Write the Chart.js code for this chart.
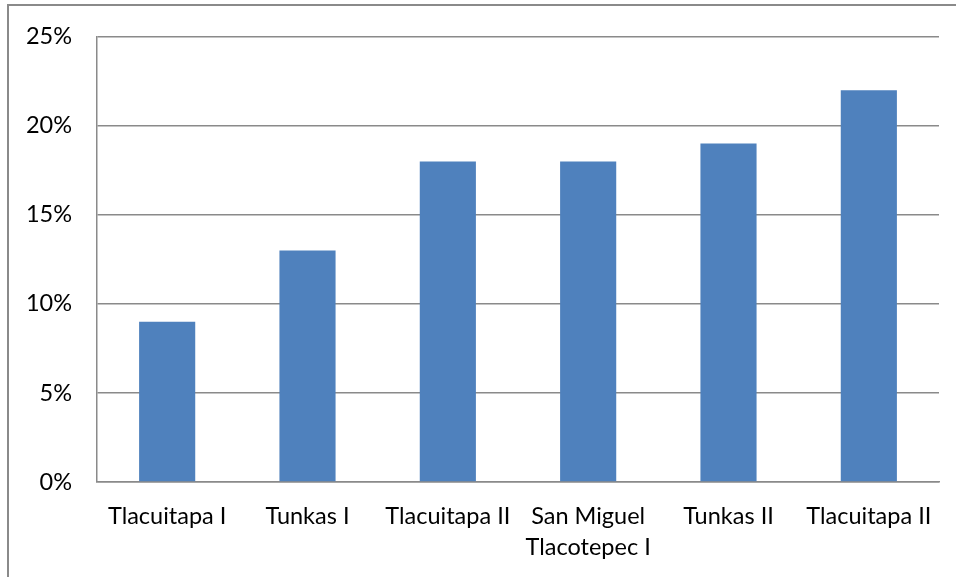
<!DOCTYPE html>
<html>
<head>
<meta charset="utf-8">
<script src="https://cdn.jsdelivr.net/npm/chart.js@4.4.1/dist/chart.umd.min.js"></script>
<style>
  html, body { margin: 0; padding: 0; background: #fff; }
  #wrap { position: relative; width: 956px; height: 577px; overflow: hidden; }
  #frame { position: absolute; left: 7px; top: 4px; width: 1000px; height: 1000px;
           border-top: 2px solid #8a8a8a; border-left: 2px solid #8a8a8a; }
  canvas { position: absolute; left: 0; top: 0; }
</style>
</head>
<body>
<div id="wrap">
  <div id="frame"></div>
  <canvas id="chart" width="956" height="577"></canvas>
</div>
<script>
const categories = ['Tlacuitapa I', 'Tunkas I', 'Tlacuitapa II', ['San Miguel', 'Tlacotepec I'], 'Tunkas II', 'Tlacuitapa II'];
const values = [9, 13, 18, 18, 19, 22];
const yTicks = [0, 5, 10, 15, 20, 25];

document.addEventListener("DOMContentLoaded", () => {
    const ctx = document.getElementById('chart').getContext('2d');
    const xFont = { family: "Lato, 'Open Sans', sans-serif", size: 23.5, lineHeight: 1.32 };
    const yFont = { family: "Lato, 'Open Sans', sans-serif", size: 23.5, lineHeight: 1.0 };

    new Chart(ctx, {
        type: 'bar',
        data: {
            labels: categories,
            datasets: [{
                data: values,
                backgroundColor: '#4f81bd',
                borderWidth: 0,
                barPercentage: 0.4,
                categoryPercentage: 1.0
            }]
        },
        options: {
            responsive: false,
            animation: false,
            layout: { padding: { top: 35, right: 17, left: 0, bottom: 0 } },
            plugins: { legend: { display: false }, tooltip: { enabled: false } },
            scales: {
                x: {
                    grid: { display: false, drawTicks: false },
                    border: { color: '#8a8a8a', width: 1.5 },
                    ticks: { color: '#000', font: xFont, padding: 19, maxRotation: 0, autoSkip: false },
                    afterFit: (s) => { s.height = 95; }
                },
                y: {
                    min: 0,
                    max: 25,
                    afterBuildTicks: (s) => { s.ticks = yTicks.map(v => ({ value: v })); },
                    grid: { color: '#8a8a8a', lineWidth: 1.5, drawTicks: false },
                    border: { color: '#8a8a8a', width: 1.5 },
                    ticks: { color: '#000', font: yFont, padding: 25, callback: (v) => v + '%' },
                    afterFit: (s) => { s.width = 97; }
                }
            }
        }
    });
});
</script>
</body>
</html>
